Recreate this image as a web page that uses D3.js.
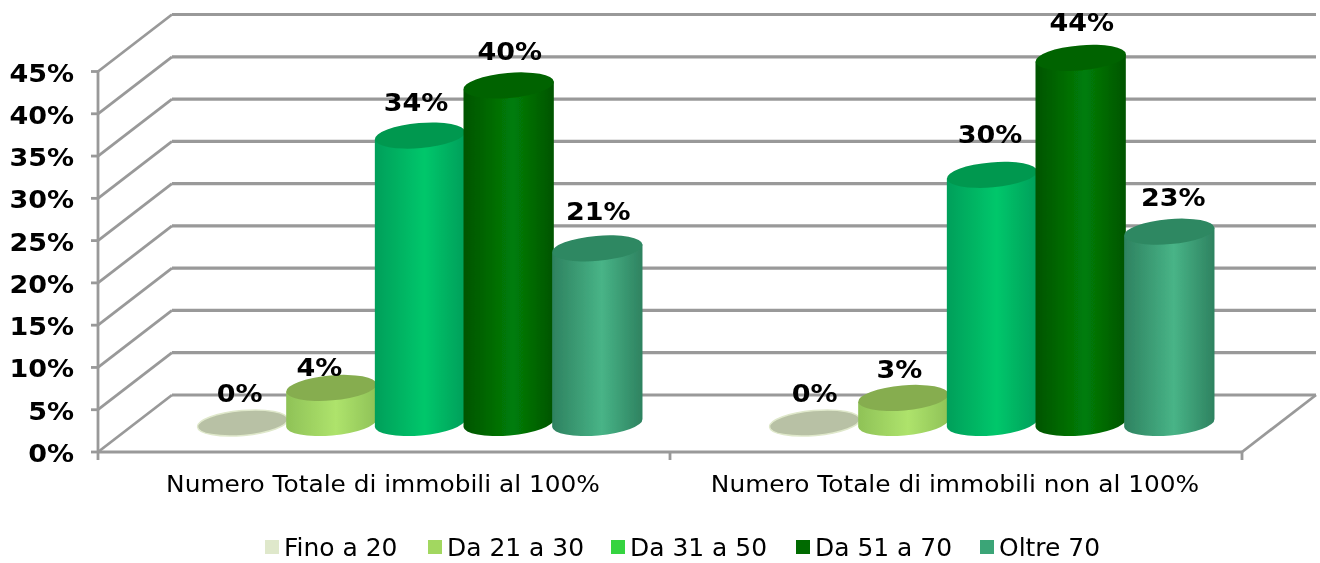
<!DOCTYPE html>
<html lang="en">
<head>
<meta charset="UTF-8">
<title>Immobili</title>
<script src="https://d3js.org/d3.v7.min.js"></script>
<style>
  html, body { margin: 0; background: #fff; overflow: hidden; }
  text { font-family: "DejaVu Sans", Verdana, sans-serif; fill: #000; }
  .tick-label, .value-label { font-weight: bold; font-size: 25px; }
  .cat-label { font-size: 23.5px; }
  .legend-label { font-size: 24px; }
  .wall { stroke: #999; stroke-width: 3.2; fill: none; }
  .diag { stroke: #999; stroke-width: 2.8; fill: none; }
</style>
</head>
<body>
<svg id="chart" width="1320" height="563"></svg>
<script>
const categories = ["Numero Totale di immobili al 100%", "Numero Totale di immobili non al 100%"];
const seriesNames = ["Fino a 20", "Da 21 a 30", "Da 31 a 50", "Da 51 a 70", "Oltre 70"];
const group1Values = [0, 0.042, 0.344, 0.404, 0.209];
const group2Values = [0, 0.03, 0.297, 0.437, 0.229];
const yTicks = [0, 0.05, 0.1, 0.15, 0.2, 0.25, 0.3, 0.35, 0.4, 0.45];
const legendColors = ["#dfe8cb", "#a2d761", "#35d43f", "#006b00", "#3aa577"];
const sideEdge = ["#c4cdb0", "#8fc257", "#009f5a", "#005400", "#2e8260"];
const sideMid = ["#dfe8cb", "#aee36c", "#00c76b", "#007d08", "#48b487"];
const topFill = ["#b8c1a5", "#86ad50", "#009850", "#006400", "#2e8862"];

const svg = d3.select("#chart");
const defs = svg.append("defs");
defs.append("filter").attr("id", "soft").append("feGaussianBlur").attr("stdDeviation", 0.6);
defs.append("filter").attr("id", "softText").append("feGaussianBlur").attr("stdDeviation", 0.3);

// depth of the fake 3d box
const depthX = 74, depthY = -57;
const x0 = d3.scaleBand().domain(categories).range([98, 1242]);
const y = d3.scaleLinear().domain([0, 0.45]).range([452, 71.5]);
// cylinders stand further back, so they come out a bit shorter than the axis
const barHeight = d3.scaleLinear().domain([0, 0.45]).range([0, 376]);
const fmt = d3.format(".0%");

// reference text is a little wider than DejaVu at the same height
function stretched(sel, sx, px, py) {
    sel.attr("transform", (d, i) => `translate(${px(d, i)},${py(d, i)}) scale(${sx},1)`);
}

const walls = svg.append("g").attr("filter", "url(#soft)");
const texts = svg.append("g").attr("filter", "url(#softText)");

// back wall lines and side wall diagonals
yTicks.forEach(t => {
    walls.append("line").attr("class", "diag")
        .attr("x1", 98).attr("y1", y(t)).attr("x2", 98 + depthX).attr("y2", y(t) + depthY);
    walls.append("line").attr("class", "wall")
        .attr("x1", 98 + depthX).attr("x2", 1242 + depthX).attr("y1", y(t) + depthY).attr("y2", y(t) + depthY);
    walls.append("line").attr("class", "diag")
        .attr("x1", 91).attr("x2", 98).attr("y1", y(t)).attr("y2", y(t));
});
walls.append("line").attr("class", "diag").attr("x1", 98).attr("x2", 98).attr("y1", y(0.45)).attr("y2", y(0));
walls.append("line").attr("class", "wall").attr("x1", 98).attr("x2", 1242).attr("y1", y(0)).attr("y2", y(0));
walls.append("line").attr("class", "diag").attr("x1", 1242).attr("x2", 1242 + depthX).attr("y1", y(0)).attr("y2", y(0) + depthY);
[98, 670, 1242].forEach(xp => {
    walls.append("line").attr("class", "diag").attr("x1", xp).attr("x2", xp).attr("y1", y(0)).attr("y2", 460);
});

// y tick labels
texts.selectAll(".tick-label").data(yTicks).enter().append("text")
    .attr("class", "tick-label")
    .attr("text-anchor", "end")
    .text(fmt)
    .call(stretched, 1.08, () => 74, d => y(d) + 10);

// category labels
texts.selectAll(".cat-label").data(categories).enter().append("text")
    .attr("class", "cat-label")
    .attr("text-anchor", "middle")
    .text(d => d)
    .call(stretched, 1.057, d => x0(d) + x0.bandwidth() / 2 - 1, () => 492);

// gradients for the cylinder sides
seriesNames.forEach((s, i) => {
    const g = defs.append("linearGradient").attr("id", "side" + i);
    g.append("stop").attr("offset", "0%").attr("stop-color", sideEdge[i]);
    g.append("stop").attr("offset", "55%").attr("stop-color", sideMid[i]);
    g.append("stop").attr("offset", "100%").attr("stop-color", sideEdge[i]);
});

const tilt = -5, ry = 12.5;
const tiltRad = tilt * Math.PI / 180;
const groupWidth = x0.bandwidth() * 0.775;
const x1 = d3.scaleBand().domain(seriesNames).range([0, groupWidth]);
const rx = x1.bandwidth() / 2 + 1;
const dxEnd = rx * Math.cos(tiltRad), dyEnd = rx * Math.sin(tiltRad);
const baseY = y(0) + depthY / 2 - 0.5;

const marks = svg.append("g").attr("filter", "url(#soft)");
const labelData = [];

// label placement tweaks per group and series
const labelDx = [[-3, -12, -4, 1, 1], [0, -4, -2, 1, 4]];
const labelDy = [[-21, -12, -25, -25, -28], [-21, -20, -32, -27, -26]];

[group1Values, group2Values].forEach((vals, c) => {
    const left = x0(categories[c]) + (x0.bandwidth() - groupWidth) / 2 + depthX / 2 - 1;
    vals.forEach((v, i) => {
        const cx = left + x1(seriesNames[i]) + x1.bandwidth() / 2;
        const topY = baseY - barHeight(v);
        if (v > 0) {
            marks.append("path")
                .attr("fill", `url(#side${i})`)
                .attr("d", `M${cx - dxEnd},${topY - dyEnd}L${cx - dxEnd},${baseY - dyEnd}` +
                    `A${rx},${ry} ${tilt} 0 0 ${cx + dxEnd},${baseY + dyEnd}L${cx + dxEnd},${topY + dyEnd}Z`);
        }
        marks.append("ellipse")
            .attr("cx", cx).attr("cy", topY)
            .attr("rx", rx).attr("ry", ry)
            .attr("transform", `rotate(${tilt} ${cx} ${topY})`)
            .attr("fill", topFill[i])
            .attr("stroke", v > 0 ? "none" : "#dfe8cb").attr("stroke-width", 1.5);
        labelData.push({ v, x: cx + labelDx[c][i], y: topY + labelDy[c][i] });
    });
});

// value labels sit above the cylinder tops
svg.append("g").attr("filter", "url(#softText)")
    .selectAll(".value-label").data(labelData).enter().append("text")
    .attr("class", "value-label")
    .attr("text-anchor", "middle")
    .text(d => fmt(d.v))
    .call(stretched, 1.08, d => d.x, d => d.y);

// legend
const legendX = d3.scaleOrdinal().domain(seriesNames).range([265, 428, 611, 796, 980]);
const legend = texts.selectAll(".legend").data(seriesNames).enter().append("g").attr("class", "legend");
legend.append("rect")
    .attr("x", d => legendX(d)).attr("y", 540).attr("width", 14).attr("height", 14)
    .attr("fill", (d, i) => legendColors[i]);
legend.append("text").attr("class", "legend-label")
    .call(stretched, 1.04, d => legendX(d) + 19, () => 556)
    .text(d => d);
</script>
</body>
</html>
